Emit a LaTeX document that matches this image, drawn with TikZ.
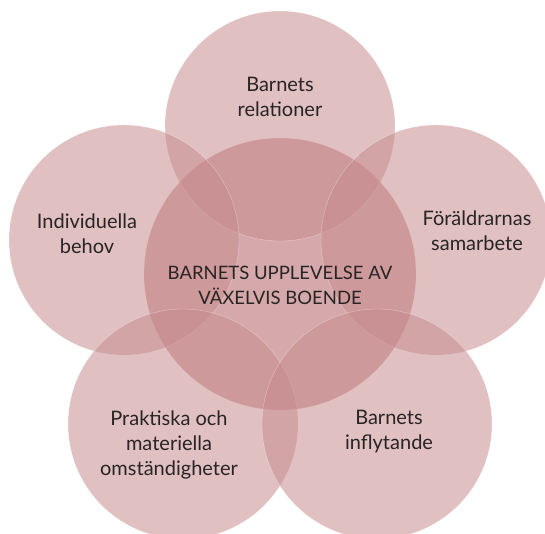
\documentclass[tikz,border=0pt]{standalone}
\usepackage{fontspec}
\setmainfont{Lato}
\usepackage{tikz}

\definecolor{rose}{RGB}{198,139,141}
\definecolor{inkgray}{RGB}{40,36,36}

\begin{document}
\begin{tikzpicture}[x=1pt, y=-1pt,
        petal/.style={fill=rose, fill opacity=0.54, draw=white, draw opacity=0.4, line width=0.4pt},
        hub/.style={fill=rose, fill opacity=0.74, draw=white, draw opacity=0.4, line width=0.4pt},
        topic/.style={align=center, text=inkgray, font=\fontsize{20}{25}\selectfont},
        theme/.style={align=center, text=inkgray, font=\fontsize{18.5}{25}\selectfont}]
            \useasboundingbox (0, 0) rectangle (545, 533);

            % centre and the five petals
            \fill[hub] (280, 274) circle [radius=136pt];
            \fill[petal] (280, 126) circle [radius=115pt];
            \fill[petal] (124, 240) circle [radius=115pt];
            \fill[petal] (436, 240) circle [radius=115pt];
            \fill[petal] (183, 424) circle [radius=115pt];
            \fill[petal] (377, 424) circle [radius=115pt];

            \node[theme] (upplevelse) at (280, 285) {BARNETS UPPLEVELSE AV\\VÄXELVIS BOENDE};
            \node[topic] (relationer) at (280, 97) {Barnets\\relationer};
            \node[topic] (behov) at (87, 234) {Individuella\\behov};
            \node[topic] (samarbete) at (477, 231) {Föräldrarnas\\samarbete};
            \node[topic] (praktiska) at (169, 445) {Praktiska och\\materiella\\omständigheter};
            \node[topic] (inflytande) at (389, 432) {Barnets\\inflytande};

        \end{tikzpicture}
\end{document}
